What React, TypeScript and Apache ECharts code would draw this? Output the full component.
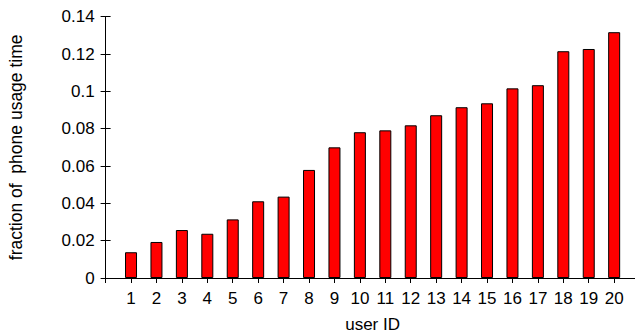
import React, { useEffect, useRef } from "react";
import * as echarts from "echarts";

const userIds: number[] = [1, 2, 3, 4, 5, 6, 7, 8, 9, 10, 11, 12, 13, 14, 15, 16, 17, 18, 19, 20];
const usageFraction: number[] = [
  0.0138, 0.0193, 0.0257, 0.0237, 0.0314, 0.0411, 0.0436, 0.0579, 0.07, 0.0781,
  0.0791, 0.0818, 0.0872, 0.0915, 0.0936, 0.1016, 0.1033, 0.1215, 0.1227, 0.1317,
];
const yTicks: number[] = [0, 0.02, 0.04, 0.06, 0.08, 0.1, 0.12, 0.14];
const xLabel = "user ID";
const yLabel = "fraction of  phone usage time";

const FONT = "Liberation Sans";

export default function App() {
  const ref = useRef<HTMLDivElement>(null);
  useEffect(() => {
    if (!ref.current) return;
    const chart = echarts.init(ref.current, null, { renderer: "svg" });
    const axisLine = { show: true, lineStyle: { color: "#000", width: 1 } };
    const tick = { show: true, inside: true, length: 5, lineStyle: { color: "#000", width: 1 } };
    chart.setOption({
      animation: false,
      backgroundColor: "#fff",
      grid: {
        left: 105.6,
        right: -4.6,
        top: 16.7,
        bottom: 56,
        containLabel: false,
        outerBoundsMode: "none",
      },
      xAxis: [
        {
          type: "value",
          position: "bottom",
          min: 0,
          max: 21,
          interval: 1,
          axisLine,
          axisTick: tick,
          splitLine: { show: false },
          axisLabel: {
            margin: 12,
            color: "#000",
            fontFamily: FONT,
            fontSize: 17,
            formatter: (v: number) => (userIds.includes(v) ? String(v) : ""),
          },
          name: xLabel,
          nameLocation: "middle",
          nameGap: 38,
          nameTextStyle: { color: "#000", fontFamily: FONT, fontSize: 17 },
        },
        {
          type: "value",
          position: "top",
          min: 0,
          max: 21,
          interval: 1,
          axisLine,
          axisTick: tick,
          splitLine: { show: false },
          axisLabel: { show: false },
        },
      ],
      yAxis: [
        {
          type: "value",
          position: "left",
          min: 0,
          max: 0.14,
          interval: 0.02,
          axisLine,
          axisTick: tick,
          splitLine: { show: false },
          axisLabel: {
            margin: 11,
            color: "#000",
            fontFamily: FONT,
            fontSize: 17,
            formatter: (v: number) => {
              const t = yTicks.find((y) => Math.abs(y - v) < 1e-9);
              return t === undefined ? "" : String(t);
            },
          },
          name: yLabel,
          nameLocation: "middle",
          nameGap: 81,
          nameTextStyle: { color: "#000", fontFamily: FONT, fontSize: 17.5, whiteSpace: "pre" },
        },
        {
          type: "value",
          position: "right",
          min: 0,
          max: 0.14,
          interval: 0.02,
          axisLine,
          axisTick: tick,
          splitLine: { show: false },
          axisLabel: { show: false },
        },
      ],
      series: [
        {
          type: "bar",
          xAxisIndex: 0,
          yAxisIndex: 0,
          barWidth: 12,
          data: userIds.map((id, i) => [id, usageFraction[i]]),
          itemStyle: { color: "#ff0000", borderColor: "#000", borderWidth: 1 },
        },
      ],
    });
    return () => chart.dispose();
  }, []);
  return (
    <div
      ref={ref}
      style={{ position: "fixed", left: 0, top: 0, width: 635, height: 334, overflow: "hidden" }}
    />
  );
}
